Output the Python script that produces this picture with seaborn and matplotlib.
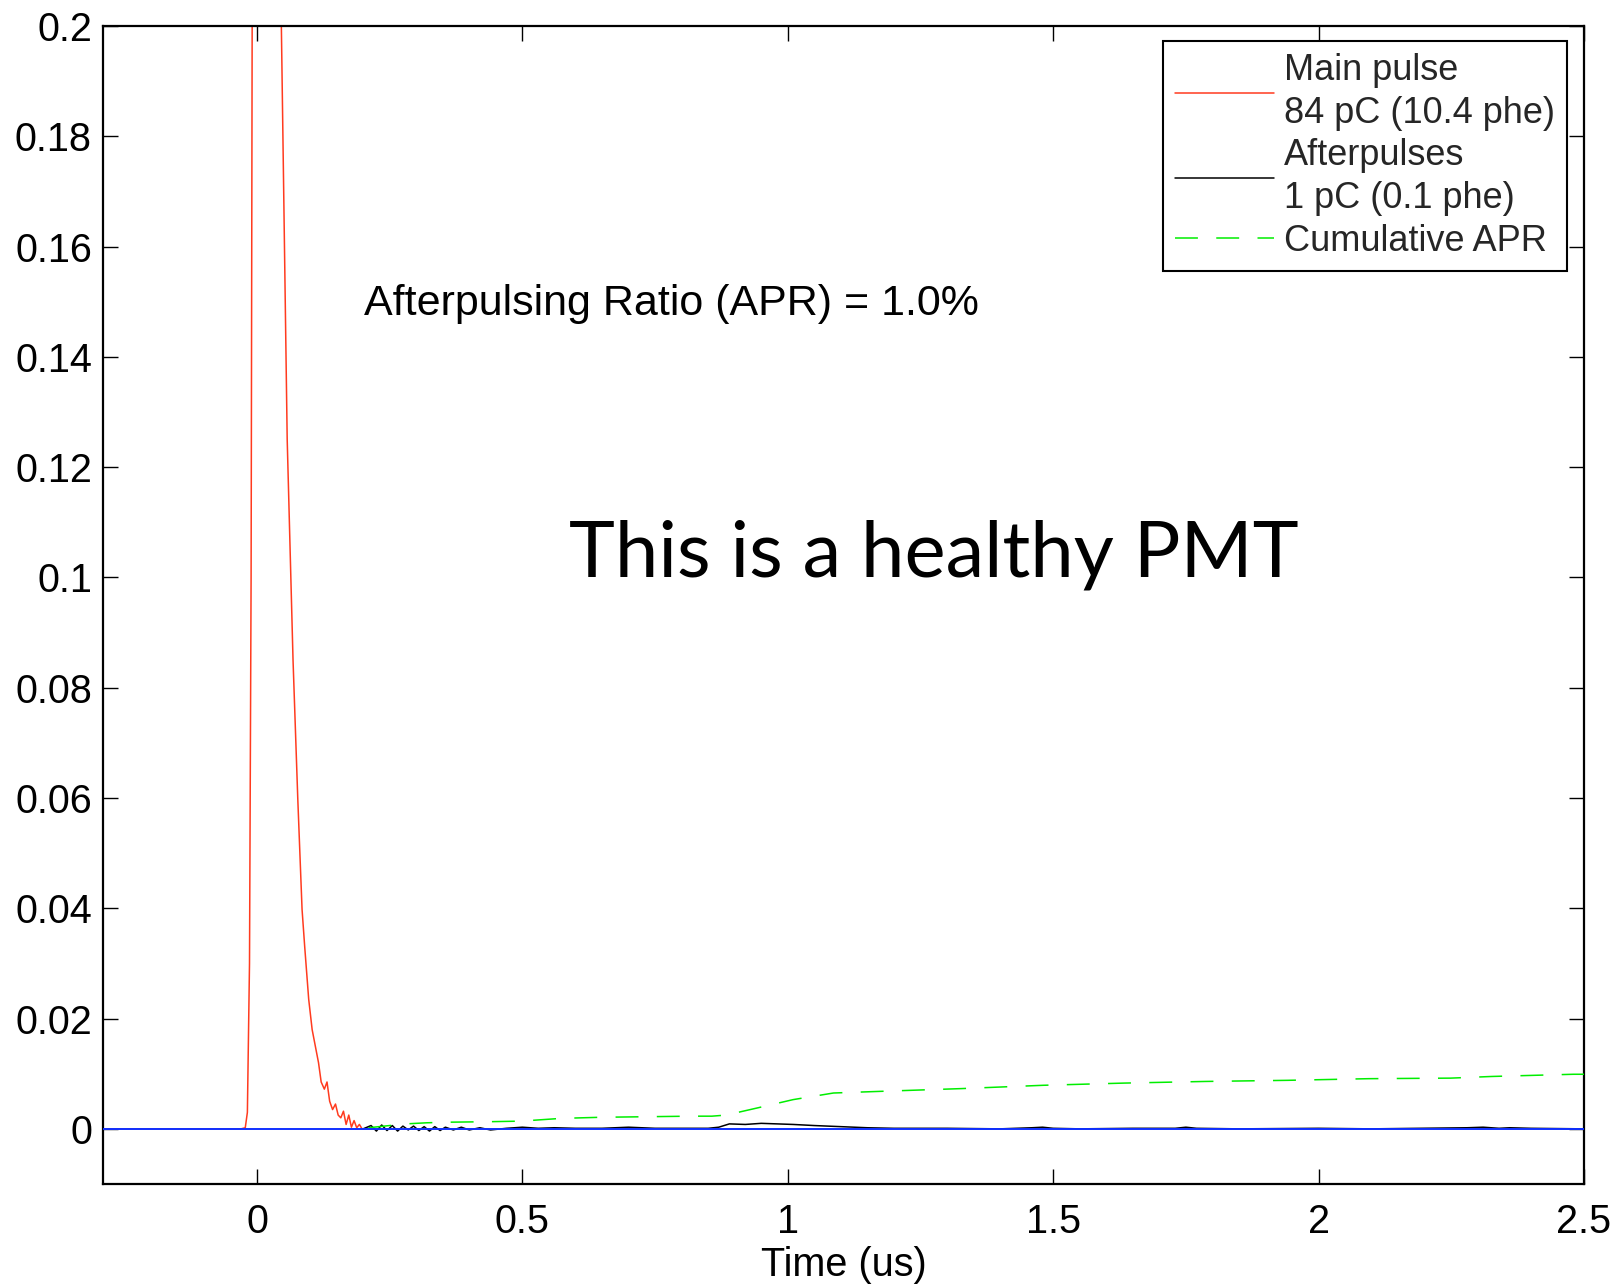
import numpy as np
import pandas as pd
import seaborn as sns
import matplotlib
matplotlib.use("Agg")
import matplotlib.pyplot as plt
from matplotlib.ticker import FuncFormatter, MultipleLocator

# ---- data ----
main_t = [-0.29, -0.03, -0.022, -0.018, -0.014, -0.011, -0.009, -0.005, 0.0, 0.015,
          0.03, 0.04, 0.046, 0.057, 0.068, 0.077, 0.085, 0.09, 0.0975, 0.104, 0.11,
          0.116, 0.121, 0.127, 0.132, 0.137, 0.1425, 0.148, 0.153, 0.158, 0.163,
          0.168, 0.173, 0.178, 0.183, 0.188, 0.193, 0.198]
main_v = [0.0, 0.0, 0.0002, 0.003, 0.03, 0.1, 0.2, 0.35, 0.5, 0.6,
          0.45, 0.3, 0.2, 0.125, 0.085, 0.0597, 0.0398, 0.033, 0.0235, 0.018, 0.015,
          0.012, 0.0085, 0.0072, 0.0085, 0.005, 0.0035, 0.0045, 0.0025, 0.002, 0.0032,
          0.0008, 0.0025, 0.0003, 0.0015, 0.0002, 0.0008, 0.0]

after_t = [0.20, 0.215, 0.225, 0.235, 0.245, 0.255, 0.265, 0.275, 0.285, 0.295,
           0.305, 0.315, 0.325, 0.335, 0.345, 0.355, 0.37, 0.385, 0.40, 0.42,
           0.44, 0.47, 0.50, 0.53, 0.56, 0.60, 0.65, 0.70, 0.75, 0.80,
           0.85, 0.87, 0.89, 0.92, 0.95, 0.98, 1.01, 1.05, 1.10, 1.15,
           1.2, 1.3, 1.4, 1.46, 1.48, 1.50, 1.55, 1.65, 1.73, 1.75,
           1.77, 1.85, 2.0, 2.1, 2.28, 2.31, 2.34, 2.36, 2.4, 2.5]
after_v = [0.0, 0.0006, -0.0004, 0.0007, -0.0003, 0.0006, -0.0004, 0.0005, -0.0002, 0.0005,
           -0.0003, 0.0004, -0.0004, 0.0004, -0.0003, 0.0003, -0.0002, 0.0003, -0.0002, 0.0002,
           -0.0002, 0.0001, 0.0003, 0.0001, 0.0002, 0.0001, 0.0001, 0.0003, 0.0001, 0.0001,
           0.0001, 0.0003, 0.0009, 0.0008, 0.0010, 0.0009, 0.0008, 0.0006, 0.0004, 0.0002,
           0.0001, 0.0001, 0.0, 0.0002, 0.0003, 0.0001, 0.0, 0.0001, 0.0001, 0.0003,
           0.0001, 0.0, 0.0001, 0.0, 0.0002, 0.0003, 0.0001, 0.0002, 0.0001, 0.0]

cum_t = [0.21, 0.25, 0.28, 0.32, 0.354, 0.438, 0.497, 0.573, 0.648, 0.733,
         0.817, 0.857, 0.884, 0.943, 1.01, 1.086, 1.174, 1.327, 1.481, 1.634,
         1.788, 1.941, 2.095, 2.249, 2.326, 2.48, 2.5]
cum_v = [0.0002, 0.0006, 0.0009, 0.0011, 0.0012, 0.0013, 0.0014, 0.0019, 0.0021, 0.0022,
         0.0023, 0.0023, 0.0025, 0.0038, 0.0053, 0.0065, 0.0068, 0.0073, 0.0079, 0.0083,
         0.0086, 0.0088, 0.0091, 0.0092, 0.0095, 0.0099, 0.0099]

base_t = [-0.29, 2.5]
base_v = [0.0, 0.0]

labels = ["Main pulse\n84 pC (10.4 phe)", "Afterpulses\n1 pC (0.1 phe)", "Cumulative APR"]
x_ticks = [0, 0.5, 1, 1.5, 2, 2.5]
y_ticks = [0, 0.02, 0.04, 0.06, 0.08, 0.1, 0.12, 0.14, 0.16, 0.18, 0.2]
apr_text = "Afterpulsing Ratio (APR) = 1.0%"
big_text = "This is a healthy PMT"
xlabel = "Time (us)"

# ---- style ----
sns.set_theme(style="white")
plt.rcParams["font.family"] = ["Liberation Sans", "DejaVu Sans"]

fig = plt.figure(figsize=(16.16, 12.84), dpi=100)
ax = fig.add_axes([103 / 1616, 1 - 1184 / 1284, 1481 / 1616, 1158 / 1284])

sns.lineplot(x=main_t, y=main_v, ax=ax, color="#ff3b1f", lw=1.1, label=labels[0], zorder=2)
sns.lineplot(x=after_t, y=after_v, ax=ax, color="black", lw=1.1, label=labels[1], zorder=3)
sns.lineplot(x=cum_t, y=cum_v, ax=ax, color="#00ee00", lw=1.1, label=labels[2], zorder=4)
ax.lines[-1].set_dashes((15, 12))
sns.lineplot(x=base_t, y=base_v, ax=ax, color="#1030ff", lw=1.4, zorder=5)

ax.set_xlim(-0.29, 2.5)
ax.set_ylim(-0.01, 0.2)
ax.set_xticks(x_ticks)
ax.set_yticks(y_ticks)
fmt = FuncFormatter(lambda v, p: "%g" % round(v, 4))
ax.xaxis.set_major_formatter(fmt)
ax.yaxis.set_major_formatter(fmt)

for s in ax.spines.values():
    s.set_visible(True)
    s.set_color("black")
    s.set_linewidth(1.6)

ax.tick_params(axis="both", which="major", direction="in", length=11, width=1.0,
               color="black", labelsize=28.5, labelcolor="black",
               top=True, right=True, bottom=True, left=True)
ax.tick_params(axis="x", pad=14)
ax.tick_params(axis="y", pad=8)

ax.set_xlabel(xlabel, fontsize=28.5, labelpad=3, color="black")
ax.set_ylabel("")

ax.text(0.202, 0.1495, apr_text, fontsize=31, ha="left", va="center", color="black")
ax.text(1.276, 0.104, big_text, fontsize=56, ha="center", va="center", color="black",
        family=["Lato", "DejaVu Sans"])

leg = ax.legend(loc="upper right", bbox_to_anchor=(0.9885, 0.987), borderaxespad=0,
                fontsize=26, frameon=True, fancybox=False, framealpha=1,
                handlelength=2.75, handletextpad=0.28, labelspacing=0.2,
                borderpad=0.33)
for t in leg.get_texts():
    t.set_linespacing(1.3)
leg.get_frame().set_edgecolor("black")
leg.get_frame().set_linewidth(1.5)

fig.savefig("out.png", dpi=100, facecolor="white")
